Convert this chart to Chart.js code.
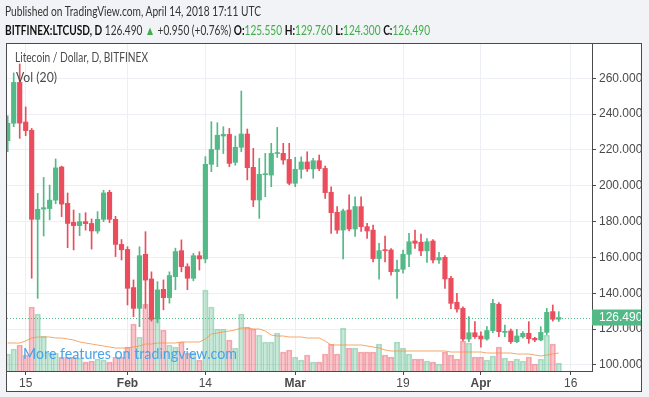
<!DOCTYPE html>
<html>
<head>
<meta charset="utf-8">
<script src="https://cdn.jsdelivr.net/npm/chart.js@4.4.1/dist/chart.umd.min.js"></script>
<style>
html, body { margin: 0; padding: 0; background: #f1f3f6; width: 649px; height: 397px; overflow: hidden; }
#wrap { position: relative; width: 649px; height: 397px; }
canvas { position: absolute; left: 0; top: 0; }
.t { position: absolute; white-space: nowrap; transform-origin: 0 50%; font-family: Lato, "Open Sans", sans-serif; }
.g { color: #3fae49; }
.b { font-weight: bold; color: #111; }
</style>
</head>
<body>
<div id="wrap">
<canvas id="c" width="649" height="397"></canvas>
<div class="t fit" data-w="256" style="left:5px;top:3px;font-size:13px;line-height:16px;color:#333">Published on TradingView.com, April 14, 2018 17:11 UTC</div>
<div class="t fit" data-w="425" style="left:5px;top:22px;font-size:13px;line-height:16px;color:#333"><span class="b">BITFINEX:LTCUSD, D</span> 126.490 <span class="g">&#9650;</span> +0.950 (+0.76%) <span class="b">O:</span><span class="g">125.550</span> <span class="b">H:</span><span class="g">129.760</span> <span class="b">L:</span><span class="g">124.300</span> <span class="b">C:</span><span class="g">126.490</span></div>
<div class="t fit" data-w="133" style="left:15px;top:49px;font-size:13px;line-height:16px;color:#4a4a4a">Litecoin / Dollar, D, BITFINEX</div>
<div class="t fit" data-w="41" style="left:16px;top:69px;font-size:13px;line-height:16px;color:#4a4a4a">Vol (20)</div>
<div class="t fit" data-w="214" style="left:23px;top:344px;font-size:15px;line-height:18px;color:#4aa3e6">More features on tradingview.com</div>
</div>
<script>
// daily candles, Jan 12 .. Apr 14 2018
var startDay = new Date(2018, 0, 12);
var days = [];
for (var d = 0; d < 93; d++) {
  var dt = new Date(startDay.getTime() + d * 86400000);
  days.push(dt.toDateString().slice(4, 10));
}

var opens = [225.2, 234.9, 257.7, 235.6, 231.0, 181.3, 187.0, 187.3, 192.0, 210.5,
  190.2, 179.6, 177.8, 180.0, 179.0, 174.8, 181.3, 196.4, 181.3, 167.3,
  164.5, 143.2, 131.6, 161.8, 148.0, 125.5, 142.2, 137.6, 149.3, 163.8,
  154.9, 148.4, 161.0, 159.2, 212.0, 220.3, 227.8, 228.7, 213.1, 221.5,
  228.9, 210.3, 192.1, 206.2, 206.0, 218.0, 218.1, 214.7, 201.4, 209.2,
  213.3, 209.4, 214.0, 209.7, 196.4, 185.2, 175.3, 186.5, 175.9, 188.4,
  177.2, 175.3, 159.4, 164.2, 164.2, 152.1, 153.4, 161.8, 169.2, 168.5,
  163.7, 169.2, 158.6, 160.1, 148.4, 135.0, 131.6, 114.5, 118.0, 116.2,
  114.5, 119.2, 133.9, 118.2, 119.0, 113.0, 115.8, 117.7, 114.9, 114.0,
  118.2, 129.8, 125.55];
var highs = [239.0, 263.0, 268.0, 244.0, 232.0, 195.8, 204.7, 200.4, 215.0, 211.0,
  196.0, 186.5, 184.6, 185.0, 181.5, 185.6, 197.5, 197.5, 183.0, 170.0,
  166.0, 147.5, 166.0, 174.4, 152.0, 146.5, 147.5, 152.0, 165.2, 169.8,
  156.5, 162.3, 163.2, 216.3, 235.8, 235.2, 233.0, 232.0, 227.8, 252.9,
  231.7, 220.9, 215.3, 218.1, 223.7, 232.6, 223.7, 223.7, 215.9, 216.2,
  219.0, 215.3, 217.2, 211.0, 199.5, 188.4, 187.0, 194.9, 193.9, 193.9,
  179.0, 178.1, 167.9, 172.0, 165.0, 158.6, 164.2, 173.5, 175.3, 173.1,
  170.5, 170.0, 162.9, 161.0, 149.5, 140.0, 132.5, 127.0, 124.2, 118.5,
  121.4, 136.6, 134.8, 122.3, 120.0, 119.9, 118.6, 124.2, 115.5, 121.4,
  131.6, 133.5, 129.76];
var lows = [219.0, 233.0, 226.5, 228.0, 148.4, 137.2, 172.0, 181.0, 190.0, 182.8,
  165.5, 164.2, 172.2, 175.3, 164.7, 173.5, 180.0, 179.5, 160.5, 158.6,
  133.5, 127.0, 121.4, 131.6, 124.5, 123.5, 130.8, 134.5, 142.0, 152.0,
  142.0, 147.0, 153.0, 157.0, 207.9, 210.7, 218.0, 210.7, 211.5, 219.0,
  203.3, 188.4, 181.8, 193.9, 199.5, 215.8, 212.0, 200.5, 199.5, 204.2,
  208.0, 204.2, 208.5, 193.0, 173.5, 173.5, 159.2, 174.8, 171.8, 174.5,
  170.7, 157.5, 147.9, 157.5, 150.2, 137.2, 151.2, 154.9, 165.0, 161.0,
  157.3, 157.0, 156.7, 142.7, 131.5, 129.5, 113.5, 113.0, 114.8, 109.9,
  113.8, 118.0, 115.8, 115.8, 112.1, 112.5, 115.0, 112.1, 113.0, 113.5,
  117.0, 124.5, 124.30];
var closes = [234.9, 257.7, 235.0, 230.8, 181.3, 186.9, 187.8, 192.0, 210.0, 189.8,
  179.0, 177.8, 180.0, 178.9, 174.8, 181.3, 196.0, 181.3, 167.3, 164.3,
  142.8, 131.6, 161.0, 147.4, 125.5, 141.9, 137.6, 149.9, 163.3, 154.9,
  148.4, 161.0, 159.2, 212.0, 220.3, 228.2, 228.7, 212.5, 221.5, 228.9,
  210.1, 192.1, 206.4, 206.6, 218.1, 218.3, 214.4, 201.4, 209.2, 213.3,
  209.4, 214.0, 209.6, 196.2, 185.0, 175.3, 186.0, 175.9, 188.4, 177.2,
  174.8, 159.4, 163.8, 163.8, 152.1, 153.4, 161.8, 168.8, 167.9, 163.7,
  168.8, 158.6, 160.0, 148.0, 134.4, 131.2, 114.5, 118.0, 115.8, 114.5,
  119.2, 134.4, 118.6, 118.8, 113.0, 116.2, 117.7, 114.7, 114.0, 118.2,
  129.4, 125.54, 126.49];
var volumes = [340, 440, 520, 320, 1280, 1140, 700, 360, 360, 280,
  280, 280, 260, 180, 200, 240, 220, 180, 280, 280,
  480, 940, 680, 1340, 1080, 1020, 820, 520, 480, 580,
  360, 360, 220, 1620, 1280, 840, 840, 620, 460, 1140,
  880, 840, 720, 580, 580, 760, 380, 420, 280, 220,
  320, 180, 180, 340, 540, 340, 860, 460, 460, 380,
  380, 380, 540, 320, 280, 580, 460, 340, 240, 240,
  200, 180, 140, 380, 320, 240, 600, 560, 280, 280,
  220, 300, 480, 260, 200, 240, 200, 280, 140, 240,
  720, 540, 160];
var volMA = [560, 560, 560, 600, 660, 680, 680, 680, 660, 660,
  640, 620, 580, 560, 540, 520, 500, 480, 460, 460,
  460, 480, 500, 540, 540, 560, 560, 560, 560, 580,
  580, 580, 580, 640, 740, 760, 780, 800, 820, 860,
  860, 840, 840, 800, 720, 700, 700, 680, 680, 680,
  660, 660, 660, 600, 520, 520, 520, 520, 520, 520,
  500, 480, 460, 420, 400, 400, 400, 400, 400, 400,
  400, 400, 400, 400, 380, 380, 380, 380, 380, 380,
  360, 360, 360, 360, 360, 340, 340, 340, 320, 300,
  320, 340, 360];

var priceTicks = [100, 120, 140, 160, 180, 200, 220, 240, 260];
var dateTickIdx = [3, 20, 33, 48, 66, 79, 94];
var dateTickText = ['15', 'Feb', '14', 'Mar', '19', 'Apr', '16'];
var monthNames = ['Feb', 'Mar', 'Apr'];

var UP = '#53b987', DOWN = '#eb4d5c';
function isUp(i) { return closes[i] >= opens[i]; }

var bodies = [], wicks = [], vols = [], volAvg = [];
for (var i = 0; i < days.length; i++) {
  bodies.push({ x: i, y: [opens[i], closes[i]] });
  wicks.push({ x: i, y: [lows[i], highs[i]] });
  vols.push({ x: i, y: volumes[i] });
  volAvg.push({ x: i, y: volMA[i] });
}

var framePlugin = {
  id: 'frame',
  beforeDraw: function(chart) {
    var c = chart.ctx, a = chart.chartArea;
    c.save();
    c.fillStyle = '#f1f3f6';
    c.fillRect(0, 0, chart.width, chart.height);
    c.fillStyle = '#ffffff';
    c.fillRect(a.left, a.top, chart.width - 7 - a.left, chart.height - 6 - a.top);
    c.restore();
  },
  beforeDatasetsDraw: function(chart) {
    var c = chart.ctx, a = chart.chartArea;
    var y = Math.round(chart.scales.y.getPixelForValue(closes[closes.length - 1])) + 0.5;
    c.save();
    c.strokeStyle = UP;
    c.lineWidth = 1;
    c.setLineDash([1, 2]);
    c.beginPath();
    c.moveTo(a.left, y);
    c.lineTo(a.right, y);
    c.stroke();
    c.restore();
  },
  afterDraw: function(chart) {
    var c = chart.ctx, a = chart.chartArea;
    var last = closes[closes.length - 1];
    var y = chart.scales.y.getPixelForValue(last);
    c.save();
    c.fillStyle = UP;
    c.fillRect(a.right, y - 8, chart.width - 7 - a.right, 16);
    c.fillStyle = '#ffffff';
    c.font = '12px "Liberation Sans", Arial, sans-serif';
    c.textBaseline = 'middle';
    c.fillText(last.toFixed(3), a.right + 7, y + 0.5);
    c.strokeStyle = '#4a4a4a';
    c.lineWidth = 1;
    c.strokeRect(a.left - 0.5, a.top + 0.5, chart.width - 7 - a.left, chart.height - 6 - a.top);
    c.restore();
  }
};

Chart.defaults.font.family = '"Liberation Sans", Arial, sans-serif';
Chart.defaults.font.size = 12;

new Chart(document.getElementById('c'), {
  type: 'bar',
  data: {
    datasets: [
      {
        type: 'bar', data: bodies, order: 0, grouped: false,
        barThickness: 4.5, minBarLength: 1,
        backgroundColor: function(ctx) { return isUp(ctx.dataIndex) ? UP : DOWN; }
      },
      {
        type: 'bar', data: wicks, order: 1, grouped: false,
        barThickness: 1,
        backgroundColor: function(ctx) { return isUp(ctx.dataIndex) ? UP : DOWN; }
      },
      {
        type: 'line', data: volAvg, order: 2, yAxisID: 'yv',
        borderColor: 'rgba(245,150,80,0.85)', borderWidth: 1, pointRadius: 0, tension: 0
      },
      {
        type: 'bar', data: vols, order: 3, yAxisID: 'yv', grouped: false,
        barThickness: 5.5,
        backgroundColor: function(ctx) { return isUp(ctx.dataIndex) ? 'rgba(83,185,135,0.32)' : 'rgba(235,77,92,0.32)'; },
        borderColor: function(ctx) { return isUp(ctx.dataIndex) ? 'rgba(83,185,135,0.45)' : 'rgba(235,77,92,0.45)'; },
        borderWidth: 1
      }
    ]
  },
  options: {
    responsive: false,
    animation: false,
    layout: { padding: { left: 7, top: 43, right: 7, bottom: 7 } },
    plugins: { legend: { display: false }, tooltip: { enabled: false } },
    scales: {
      x: {
        type: 'linear', min: -0.12, max: 97.55, offset: false,
        afterFit: function(s) { s.height = 19; },
        afterBuildTicks: function(s) { s.ticks = dateTickIdx.map(function(v) { return { value: v }; }); },
        grid: { color: '#eceff3', tickColor: '#4a4a4a', tickLength: 4, offset: false },
        border: { color: '#4a4a4a' },
        ticks: {
          padding: 1, color: '#4a4a4a', maxRotation: 0, autoSkip: false,
          callback: function(v) { var k = dateTickIdx.indexOf(v); return k < 0 ? '' : dateTickText[k]; },
          font: function(ctx) {
            var lbl = ctx.tick ? dateTickText[dateTickIdx.indexOf(ctx.tick.value)] : '';
            return { size: 12, weight: monthNames.indexOf(lbl) >= 0 ? 'bold' : 'normal' };
          }
        }
      },
      y: {
        position: 'right', min: 96.65, max: 279.7,
        afterFit: function(s) { s.width = 50; },
        afterBuildTicks: function(s) { s.ticks = priceTicks.map(function(v) { return { value: v }; }); },
        grid: { color: '#eceff3', tickColor: '#4a4a4a', tickLength: 4 },
        border: { color: '#4a4a4a' },
        ticks: { padding: 3, color: '#4a4a4a', callback: function(v) { return Number(v).toFixed(3); } }
      },
      yv: { display: false, min: 0, max: 6560 }
    }
  },
  plugins: [framePlugin]
});

// squeeze header texts to the width they take in the reference
var fits = document.querySelectorAll('.fit');
for (var f = 0; f < fits.length; f++) {
  var el = fits[f];
  var w = el.getBoundingClientRect().width;
  el.style.transform = 'scaleX(' + (Number(el.getAttribute('data-w')) / w) + ')';
}
</script>
</body>
</html>
